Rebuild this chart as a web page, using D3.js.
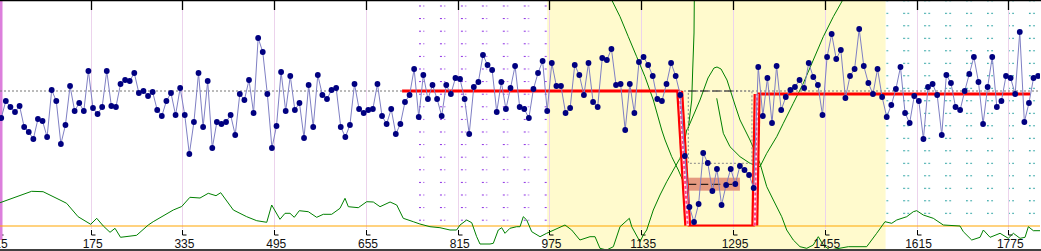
<!DOCTYPE html>
<html><head><meta charset="utf-8">
<script src="https://cdn.jsdelivr.net/npm/d3@7"></script>
<style>body{margin:0;background:#fff}svg{display:block}</style>
</head><body><svg id="c" width="1041" height="251"></svg>
<script>
// ---- data ----
const values = [108,125,119,114,120,99,94,87,107,105,89,136,125,82,101,140,115,123,115,155,
118,112,119,155,120,119,142,146,145,153,133,135,130,134,116,110,125,133,111,138,
111,72,104,153,99,145,78,104,102,104,111,91,132,126,146,113,188,174,132,78,
100,154,115,150,116,123,88,141,99,151,131,127,136,138,99,89,101,142,117,113,
116,117,142,110,102,117,92,102,124,131,157,109,151,127,141,127,110,141,132,148,
147,127,92,139,144,171,161,156,114,144,117,138,160,119,117,108,137,153,165,115,
163,140,140,113,118,161,151,131,163,124,119,168,166,177,141,142,96,142,113,164,
169,161,150,127,125,142,163,150,131,70,19,4,22,73,63,35,57,21,41,57,
42,60,56,51,38,159,110,148,103,160,116,129,136,139,146,138,163,149,141,111,
169,192,167,176,128,150,157,197,160,143,132,157,129,109,121,137,159,113,103,130,
125,87,139,142,131,91,151,143,119,116,135,152,169,144,102,139,169,119,125,150,
148,132,194,104,123,148,150];
const xFirst = 19, xStep = 8;
const tickValues = [15,175,335,495,655,815,975,1135,1295,1455,1615,1775];
const meanLevel = 135;
// step (fitted level) line
const redX = [718,1202,1216,1333,1337,1813];
const redY = [135,135,0.5,0.5,132,132];
// segment mean & interval
const segMeanX = [1217,1302], segMean = 41.7, segLow = 35.3, segHigh = 48.3, segBoxX1 = 1307;
const refDashX = [1217,1302], refDash = 135;
const dotBoxX = [1217,1328], dotBoxY = [62.7,135];
// zones
const changeZone = [971,1561];
const leftHatch = [744,971], rightHatch = [1561,1835];
// green curves
const cusumX = [17,72,92,121.5,133,153,175,185.5,197,208.7,217.4,227,255,275.4,284,319,333.7,348,365.6,380,393.5,401.7,423.7,447,464.5,482,490.6,505,513.8,522.5,530,538.7,554.4,569,580.6,595.2,609.7,618.4,624.2,641.6,656.3,667.8,679.5,697,708.6,720,737.5,749,766.6,784,801.5,813,819,830.6,839.4,848,853.8,871.3,877,885.7,891.7,897.4,906,917.8,923.6,929.3,935.3,944,958.5,970,1002,1013.7,1028,1045.6,1054.4,1063,1074.7,1086.3,1098,1114.2,1118.4,1132.8,1138.6,1144.5,1156,1167.7,1179.4,1190.9,1202.5,1208.3,1214.2,1217,1223,1224.7,1227,1227.5];
const cusumY = [23.3,34.7,34.3,26,22.7,9.3,1.7,7.7,0,-6.3,-2.3,-11.3,-9.3,1,4.3,16,19.5,28.7,28,32.7,30.3,33.3,16,9.3,5.3,3.7,21,6.7,12.7,12.7,8.7,15.3,14.3,8.7,11.7,11.7,17.7,27.7,19.3,18.3,24.3,24,19.3,24,21,7.7,4.3,2,-0.7,-1.7,-4,-4,1,6,3.3,-10.7,-18,-18,-17.3,-4,-1.7,-7.3,-2.3,-0.7,-0.7,9.3,6,-5.7,-10.7,-7.3,1,-4,-14,-10.7,-10.7,-22.3,-24,-20.7,-0.7,7.7,-0.7,-15.7,-9,-4,16,31,44.3,56,67.7,77.7,96,98,126,156,193,226];
const bellX = [1216.5,1237.4,1251.4,1261.8,1267.1,1274.1,1284.5,1298.5,1307.2,1324.6,1342,1353.8,1365.3,1379.9,1388.6,1400.1,1411.8,1423.5,1435,1443.7,1452.4,1464.1,1496,1528.1,1545.5,1560,1571.7,1580.4,1597.9,1609.4,1615.3,1626.8,1644.2,1661.7,1690.8,1696.6,1711.2,1725.7,1731.5,1743.2,1760.6,1775,1783.8,1795.5,1804.2,1810,1818.7,1830.4];
const bellY = [98,126,148,158,159,157,146,121,106,86,62.7,39.3,26,9.3,-4,-14,-20.7,-22.3,-19,-10.7,-19,-24,-20.7,-20.7,-7.3,4.3,2.7,6,9.3,14.3,15.3,11,7.7,1,0,-5.7,-14,-11.3,-4,-11.3,-7.3,-12.3,-7.3,-12.3,-11.3,-0.7,-4.7,-4.7];
const leftArmX = [1083.5,1098,1112.4,1127,1141.5,1156,1170.7,1176.5,1188.1,1199.6,1208.3,1214.2];
const leftArmY = [226,209.3,189.3,169.3,149.3,126,96,86,69.3,56,44.3,39.3];
const rightArmX = [1266.6,1278.1,1289.7,1307.2,1324.6,1342,1353.8,1371.2,1382.7,1400.1,1417.6,1435,1452.4,1469.9,1486.3];
const rightArmY = [127.7,92.7,79.3,69.3,62.7,59.3,72.7,89.3,102.7,122.7,142.7,166,189.3,209.3,226];
const limitLevel = 0;

// ---- drawing ----
const W = 1041, H = 251;
const svg = d3.select('#c');
const x = d3.scaleLinear().domain([15,1775]).range([-1.06,1008.3]);
const y = d3.scaleLinear().domain([0,225]).range([226,1]);
const pts = values.map((v,i)=>({x:xFirst+xStep*i, v}));

const defs = svg.append('defs');
defs.append('clipPath').attr('id','plot').append('rect').attr('x',0).attr('y',0).attr('width',1040).attr('height',249);
const pp = defs.append('pattern').attr('id','hp').attr('patternUnits','userSpaceOnUse')
  .attr('x',419).attr('y',5.5).attr('width',20.95).attr('height',12.6);
pp.append('rect').attr('x',0).attr('y',0).attr('width',2).attr('height',1).attr('fill','#8a2be2');
pp.append('rect').attr('x',4.3).attr('y',0).attr('width',1).attr('height',1).attr('fill','#8a2be2');
const tp = defs.append('pattern').attr('id','ht').attr('patternUnits','userSpaceOnUse')
  .attr('x',882.3).attr('y',12.8).attr('width',20.95).attr('height',12.5);
tp.append('rect').attr('x',0).attr('y',0).attr('width',1.7).attr('height',1).attr('fill','#009090');
tp.append('rect').attr('x',4.3).attr('y',0).attr('width',1.5).attr('height',1).attr('fill','#009090');

svg.append('rect').attr('width',W).attr('height',H).attr('fill','#fff');
const g = svg.append('g').attr('clip-path','url(#plot)');

g.append('rect').attr('x',x(leftHatch[0])).attr('y',0).attr('width',x(leftHatch[1])-x(leftHatch[0])).attr('height',226).attr('fill','url(#hp)');
g.append('rect').attr('x',x(rightHatch[0])).attr('y',0).attr('width',x(rightHatch[1])-x(rightHatch[0])).attr('height',220).attr('fill','url(#ht)');
g.append('rect').attr('x',x(changeZone[0])).attr('y',0).attr('width',x(changeZone[1])-x(changeZone[0])).attr('height',H).attr('fill','#fffacd');

// grid
tickValues.forEach(t=>{
  const X = Math.round(x(t))+0.5;
  g.append('line').attr('x1',X).attr('x2',X).attr('y1',10).attr('y2',229).attr('stroke','#ecd3ec').attr('stroke-width',1);
  g.append('line').attr('x1',X).attr('x2',X).attr('y1',0).attr('y2',10).attr('stroke','#000').attr('stroke-width',1.3);
  g.append('path').attr('d',`M${X},230V235H${X+4}`).attr('fill','none').attr('stroke','#000').attr('stroke-width',1);
});
g.append('rect').attr('x',0).attr('y',0).attr('width',2.5).attr('height',240).attr('fill','#dc7fdc');

// mean line
g.append('line').attr('x1',0).attr('x2',1040).attr('y1',y(meanLevel)).attr('y2',y(meanLevel)).attr('stroke','#777').attr('stroke-dasharray','2,2');
// orange limit
g.append('line').attr('x1',0).attr('x2',1040).attr('y1',y(limitLevel)).attr('y2',y(limitLevel)).attr('stroke','#ffa500').attr('stroke-width',1.2);

const lineG = d3.line().x(d=>x(d[0])).y(d=>y(d[1]));
const zip = (a,b)=>a.map((v,i)=>[v,b[i]]);
[[cusumX,cusumY],[bellX,bellY],[leftArmX,leftArmY],[rightArmX,rightArmY]].forEach(([a,b])=>{
  g.append('path').attr('d',lineG(zip(a,b))).attr('fill','none').attr('stroke','#008000').attr('stroke-width',1);
});

// segment box
g.append('rect').attr('x',x(segMeanX[0])).attr('y',y(segHigh)).attr('width',x(segBoxX1)-x(segMeanX[0])).attr('height',y(segLow)-y(segHigh)).attr('fill','#e59a80');
g.append('line').attr('x1',x(segMeanX[0])).attr('x2',x(segMeanX[1])).attr('y1',y(segMean)).attr('y2',y(segMean)).attr('stroke','#000').attr('stroke-dasharray','8,4');
g.append('line').attr('x1',x(refDashX[0])).attr('x2',x(refDashX[1])).attr('y1',y(refDash)).attr('y2',y(refDash)).attr('stroke','#000').attr('stroke-dasharray','8,4');
g.append('rect').attr('x',x(dotBoxX[0])).attr('y',y(dotBoxY[1])).attr('width',x(dotBoxX[1])-x(dotBoxX[0])).attr('height',y(dotBoxY[0])-y(dotBoxY[1])).attr('fill','none').attr('stroke','#888').attr('stroke-dasharray','2,2');

// step line
const red = zip(redX,redY);
g.append('path').attr('d',lineG(red.slice(0,2))).attr('fill','none').attr('stroke','#ff0000').attr('stroke-width',3);
g.append('path').attr('d',lineG(red.slice(4,6))).attr('fill','none').attr('stroke','#ff0000').attr('stroke-width',3);
g.append('path').attr('d',lineG(red.slice(2,4))).attr('fill','none').attr('stroke','#ff0000').attr('stroke-width',2);
[red.slice(1,3), red.slice(3,5)].forEach(seg=>{
  g.append('path').attr('d',lineG(seg)).attr('fill','none').attr('stroke','#ff0000').attr('stroke-width',7);
  g.append('path').attr('d',lineG(seg)).attr('fill','none').attr('stroke','#ffe8f0').attr('stroke-width',2.6);
  g.append('path').attr('d',lineG(seg)).attr('fill','none').attr('stroke','#ff3d8b').attr('stroke-width',2).attr('stroke-dasharray','3,2');
});

// data
g.append('path').attr('d',d3.line().x(d=>x(d.x)).y(d=>y(d.v))(pts)).attr('fill','none').attr('stroke','#7f7fc4').attr('stroke-width',1);
g.selectAll('circle.p').data(pts).enter().append('circle').attr('cx',d=>x(d.x)).attr('cy',d=>y(d.v)).attr('r',2.9).attr('fill','#000080');

// labels
svg.selectAll('text.t').data(tickValues).enter().append('text')
  .attr('x',d=>x(d)+2).attr('y',248).attr('text-anchor','middle')
  .attr('font-family','Liberation Sans, Arial, sans-serif').attr('font-size',12).attr('fill','#111').text(d=>d);

// frame
svg.append('line').attr('x1',0).attr('x2',1041).attr('y1',0.5).attr('y2',0.5).attr('stroke','#000').attr('stroke-width',1.5);
svg.append('line').attr('x1',0).attr('x2',1041).attr('y1',250).attr('y2',250).attr('stroke','#000').attr('stroke-width',1.5);
</script></body></html>
